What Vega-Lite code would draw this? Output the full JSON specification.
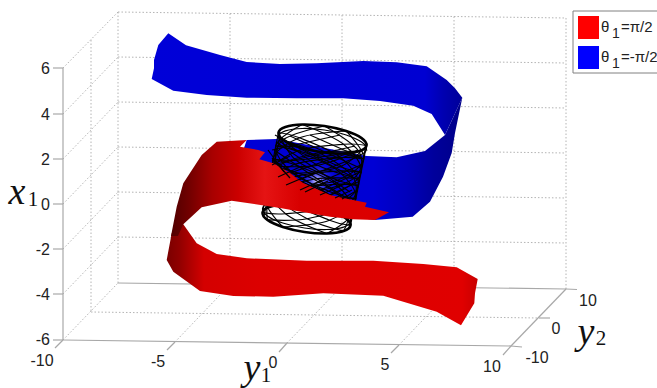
{"$schema":"https://vega.github.io/schema/vega-lite/v6.json","width":657,"height":388,"padding":0,"autosize":{"type":"none"},"background":"white","config":{"view":{"stroke":null}},
"datasets":{
"grid":[{"x":118,"y":12,"x2":566,"y2":18},{"x":118,"y":57,"x2":566,"y2":63},{"x":118,"y":102,"x2":566,"y2":108},{"x":118,"y":147,"x2":566,"y2":153},{"x":118,"y":192,"x2":566,"y2":198},{"x":118,"y":237,"x2":566,"y2":243},{"x":91,"y":312,"x2":539,"y2":318},{"x":63,"y":68,"x2":118,"y2":12},{"x":63,"y":114,"x2":118,"y2":57},{"x":63,"y":159,"x2":118,"y2":102},{"x":63,"y":204,"x2":118,"y2":147},{"x":63,"y":249,"x2":118,"y2":192},{"x":63,"y":294,"x2":118,"y2":237},{"x":63,"y":340,"x2":118,"y2":283},{"x":118,"y":12,"x2":118,"y2":283},{"x":91,"y":40,"x2":91,"y2":312},{"x":230,"y":13.5,"x2":230,"y2":284.5},{"x":342,"y":15,"x2":342,"y2":286},{"x":454,"y":16.5,"x2":454,"y2":287.5},{"x":566,"y":18,"x2":566,"y2":289},{"x":175,"y":342,"x2":230,"y2":284.5},{"x":287,"y":343,"x2":342,"y2":286},{"x":399,"y":345,"x2":454,"y2":287.5}],
"axes":[{"x":63,"y":68,"x2":63,"y2":340},{"x":63,"y":340,"x2":511,"y2":346},{"x":511,"y":346,"x2":566,"y2":289},{"x":118,"y":283,"x2":566,"y2":289},{"x":63,"y":68,"x2":53,"y2":68},{"x":63,"y":114,"x2":53,"y2":114},{"x":63,"y":159,"x2":53,"y2":159},{"x":63,"y":204,"x2":53,"y2":204},{"x":63,"y":249,"x2":53,"y2":249},{"x":63,"y":294,"x2":53,"y2":294},{"x":63,"y":340,"x2":53,"y2":340},{"x":63,"y":340,"x2":55,"y2":348},{"x":175,"y":342,"x2":167,"y2":350},{"x":287,"y":343,"x2":279,"y2":352},{"x":399,"y":345,"x2":391,"y2":353},{"x":511,"y":346,"x2":503,"y2":355},{"x":511,"y":346,"x2":522,"y2":347},{"x":539,"y":318,"x2":550,"y2":318},{"x":566,"y":289,"x2":577,"y2":289.5}],
"blueTop":[{"x":168.3,"y":33.3},{"x":186,"y":45.3},{"x":220,"y":55},{"x":246.7,"y":62},{"x":280,"y":64},{"x":316.7,"y":63.3},{"x":363.3,"y":61},{"x":396.7,"y":62.3},{"x":426.7,"y":66.3},{"x":446.7,"y":80},{"x":455,"y":88.3},{"x":462.3,"y":97.7},{"x":445,"y":135},{"x":431.7,"y":114},{"x":413.3,"y":105.7},{"x":380,"y":101},{"x":343.3,"y":98.3},{"x":296.7,"y":98.3},{"x":246.7,"y":97.7},{"x":206.7,"y":95},{"x":173.3,"y":90.7},{"x":151.7,"y":79},{"x":154,"y":68.3},{"x":154,"y":60},{"x":158.3,"y":45}],
"blueLow":[{"x":462.3,"y":97.7},{"x":455,"y":133},{"x":451.7,"y":153},{"x":443,"y":176.7},{"x":430,"y":201.7},{"x":412.7,"y":216.7},{"x":375,"y":220},{"x":300,"y":210},{"x":240,"y":160},{"x":246.7,"y":140},{"x":276.7,"y":139},{"x":330,"y":149},{"x":366.7,"y":156},{"x":396.7,"y":157.3},{"x":425,"y":151},{"x":445,"y":135}],
"redLow":[{"x":183.3,"y":224.3},{"x":196.7,"y":243.3},{"x":216.7,"y":254},{"x":246.7,"y":258.3},{"x":306.7,"y":260.7},{"x":373.3,"y":260.7},{"x":423.3,"y":264},{"x":456.7,"y":267.3},{"x":477.7,"y":279},{"x":475,"y":293.3},{"x":474.3,"y":303.3},{"x":461,"y":325.3},{"x":436.7,"y":311.7},{"x":383.3,"y":295.7},{"x":323.3,"y":293.3},{"x":273.3,"y":296.7},{"x":233.3,"y":296},{"x":200,"y":291},{"x":173.3,"y":271.7},{"x":166.7,"y":260},{"x":171.7,"y":233.3}],
"redTop":[{"x":216.7,"y":141.7},{"x":246.7,"y":140},{"x":240,"y":146.7},{"x":258.3,"y":150},{"x":265,"y":152.3},{"x":259.3,"y":159.3},{"x":273.3,"y":163.3},{"x":290,"y":173},{"x":303,"y":183},{"x":330,"y":195},{"x":343,"y":198},{"x":366.7,"y":202.7},{"x":365,"y":206.7},{"x":389,"y":212.3},{"x":375,"y":220},{"x":353,"y":219.3},{"x":330,"y":216.7},{"x":280,"y":208},{"x":231.7,"y":200.7},{"x":201.7,"y":207.3},{"x":183.3,"y":224.3},{"x":178,"y":236},{"x":171,"y":236},{"x":176.7,"y":206.7},{"x":183.3,"y":183.3},{"x":201.7,"y":155}],
"ball":[{"x":317,"y":181}],
"rings":[{"r":"t","x":366.5,"y":145.5},{"r":"t","x":359.6,"y":151.1},{"r":"t","x":342.8,"y":153.5},{"r":"t","x":320.5,"y":152},{"r":"t","x":298.8,"y":147},{"r":"t","x":283.4,"y":139.9},{"r":"t","x":278.5,"y":132.5},{"r":"t","x":285.4,"y":126.9},{"r":"t","x":302.2,"y":124.5},{"r":"t","x":324.5,"y":126},{"r":"t","x":346.2,"y":131},{"r":"t","x":361.6,"y":138.1},{"r":"b","x":350.5,"y":225.5},{"r":"b","x":343.6,"y":231.1},{"r":"b","x":326.8,"y":233.5},{"r":"b","x":304.5,"y":232},{"r":"b","x":282.8,"y":227},{"r":"b","x":267.4,"y":219.9},{"r":"b","x":262.5,"y":212.5},{"r":"b","x":269.4,"y":206.9},{"r":"b","x":286.2,"y":204.5},{"r":"b","x":308.5,"y":206},{"r":"b","x":330.2,"y":211},{"r":"b","x":345.6,"y":218.1}],
"rings2":[{"r":"t","x":366.5,"y":149.5},{"r":"t","x":359.6,"y":155.1},{"r":"t","x":342.8,"y":157.5},{"r":"t","x":320.5,"y":156},{"r":"t","x":298.8,"y":151},{"r":"t","x":283.4,"y":143.9},{"r":"t","x":278.5,"y":136.5},{"r":"t","x":285.4,"y":130.9},{"r":"t","x":302.2,"y":128.5},{"r":"t","x":324.5,"y":130},{"r":"t","x":346.2,"y":135},{"r":"t","x":361.6,"y":142.1},{"r":"b","x":350.5,"y":221.5},{"r":"b","x":343.6,"y":227.1},{"r":"b","x":326.8,"y":229.5},{"r":"b","x":304.5,"y":228},{"r":"b","x":282.8,"y":223},{"r":"b","x":267.4,"y":215.9},{"r":"b","x":262.5,"y":208.5},{"r":"b","x":269.4,"y":202.9},{"r":"b","x":286.2,"y":200.5},{"r":"b","x":308.5,"y":202},{"r":"b","x":330.2,"y":207},{"r":"b","x":345.6,"y":214.1}],
"rails":[{"x":278.5,"y":132.5,"x2":262.5,"y2":212.5},{"x":280,"y":136,"x2":264,"y2":216},{"x":366.5,"y":145.5,"x2":350.5,"y2":225.5},{"x":365,"y":150,"x2":349,"y2":229},{"x":272,"y":165,"x2":355,"y2":146},{"x":278,"y":177,"x2":358,"y2":150},{"x":286,"y":185,"x2":360,"y2":156},{"x":300,"y":190,"x2":361,"y2":165},{"x":312,"y":194,"x2":360,"y2":172},{"x":325,"y":197,"x2":358,"y2":182},{"x":272,"y":150,"x2":340,"y2":135},{"x":276,"y":142,"x2":350,"y2":192},{"x":274,"y":150,"x2":346,"y2":198},{"x":275,"y":135,"x2":358,"y2":180},{"x":290,"y":136,"x2":360,"y2":168},{"x":310,"y":135,"x2":362,"y2":158},{"x":272,"y":160,"x2":335,"y2":198},{"x":273,"y":170,"x2":318,"y2":196}],
"helix":[
{"h":"p0","x":366.5,"y":145.5},{"h":"p0","x":340.1,"y":166.8},{"h":"p0","x":293.5,"y":173.7},{"h":"p0","x":270.5,"y":172.5},{"h":"p0","x":291.5,"y":177.8},{"h":"p0","x":332.9,"y":197.7},{"h":"p0","x":350.5,"y":225.5},
{"h":"p30","x":359.6,"y":151.1},{"h":"p30","x":317.8,"y":165.3},{"h":"p30","x":278.1,"y":166.6},{"h":"p30","x":277.4,"y":166.9},{"h":"p30","x":313.8,"y":179.3},{"h":"p30","x":348.3,"y":204.8},{"h":"p30","x":343.6,"y":231.1},
{"h":"p60","x":342.8,"y":153.5},{"h":"p60","x":296.1,"y":160.3},{"h":"p60","x":273.2,"y":159.2},{"h":"p60","x":294.2,"y":164.5},{"h":"p60","x":335.5,"y":184.3},{"h":"p60","x":353.2,"y":212.2},{"h":"p60","x":326.8,"y":233.5},
{"h":"p120","x":298.8,"y":147},{"h":"p120","x":275.8,"y":145.8},{"h":"p120","x":296.9,"y":151.2},{"h":"p120","x":338.2,"y":171},{"h":"p120","x":355.8,"y":198.8},{"h":"p120","x":329.5,"y":220.2},{"h":"p120","x":282.8,"y":227},
{"h":"p150","x":283.4,"y":139.9},{"h":"p150","x":282.7,"y":140.2},{"h":"p150","x":319.2,"y":152.7},{"h":"p150","x":353.6,"y":178.1},{"h":"p150","x":348.9,"y":204.4},{"h":"p150","x":307.2,"y":218.7},{"h":"p150","x":267.4,"y":219.9},
{"h":"p180","x":278.5,"y":132.5},{"h":"p180","x":299.5,"y":137.8},{"h":"p180","x":340.9,"y":157.7},{"h":"p180","x":358.5,"y":185.5},{"h":"p180","x":332.1,"y":206.8},{"h":"p180","x":285.5,"y":213.7},{"h":"p180","x":262.5,"y":212.5},
{"h":"p240","x":302.2,"y":124.5},{"h":"p240","x":343.5,"y":144.3},{"h":"p240","x":361.2,"y":172.2},{"h":"p240","x":334.8,"y":193.5},{"h":"p240","x":288.1,"y":200.3},{"h":"p240","x":265.2,"y":199.2},{"h":"p240","x":286.2,"y":204.5},
{"h":"p270","x":324.5,"y":126},{"h":"p270","x":358.9,"y":151.4},{"h":"p270","x":354.3,"y":177.8},{"h":"p270","x":312.5,"y":192},{"h":"p270","x":272.7,"y":193.2},{"h":"p270","x":272.1,"y":193.6},{"h":"p270","x":308.5,"y":206},
{"h":"p300","x":346.2,"y":131},{"h":"p300","x":363.8,"y":158.8},{"h":"p300","x":337.5,"y":180.2},{"h":"p300","x":290.8,"y":187},{"h":"p300","x":267.8,"y":185.8},{"h":"p300","x":288.9,"y":191.2},{"h":"p300","x":330.2,"y":211},
{"h":"m0","x":366.5,"y":145.5},{"h":"m0","x":343.5,"y":144.3},{"h":"m0","x":296.9,"y":151.2},{"h":"m0","x":270.5,"y":172.5},{"h":"m0","x":288.1,"y":200.3},{"h":"m0","x":329.5,"y":220.2},{"h":"m0","x":350.5,"y":225.5},
{"h":"m30","x":359.6,"y":151.1},{"h":"m30","x":358.9,"y":151.4},{"h":"m30","x":319.2,"y":152.7},{"h":"m30","x":277.4,"y":166.9},{"h":"m30","x":272.7,"y":193.2},{"h":"m30","x":307.2,"y":218.7},{"h":"m30","x":343.6,"y":231.1},
{"h":"m60","x":342.8,"y":153.5},{"h":"m60","x":363.8,"y":158.8},{"h":"m60","x":340.9,"y":157.7},{"h":"m60","x":294.2,"y":164.5},{"h":"m60","x":267.8,"y":185.8},{"h":"m60","x":285.5,"y":213.7},{"h":"m60","x":326.8,"y":233.5},
{"h":"m120","x":298.8,"y":147},{"h":"m120","x":340.1,"y":166.8},{"h":"m120","x":361.2,"y":172.2},{"h":"m120","x":338.2,"y":171},{"h":"m120","x":291.5,"y":177.8},{"h":"m120","x":265.2,"y":199.2},{"h":"m120","x":282.8,"y":227},
{"h":"m150","x":283.4,"y":139.9},{"h":"m150","x":317.8,"y":165.3},{"h":"m150","x":354.3,"y":177.8},{"h":"m150","x":353.6,"y":178.1},{"h":"m150","x":313.8,"y":179.3},{"h":"m150","x":272.1,"y":193.6},{"h":"m150","x":267.4,"y":219.9},
{"h":"m180","x":278.5,"y":132.5},{"h":"m180","x":296.1,"y":160.3},{"h":"m180","x":337.5,"y":180.2},{"h":"m180","x":358.5,"y":185.5},{"h":"m180","x":335.5,"y":184.3},{"h":"m180","x":288.9,"y":191.2},{"h":"m180","x":262.5,"y":212.5},
{"h":"m240","x":302.2,"y":124.5},{"h":"m240","x":275.8,"y":145.8},{"h":"m240","x":293.5,"y":173.7},{"h":"m240","x":334.8,"y":193.5},{"h":"m240","x":355.8,"y":198.8},{"h":"m240","x":332.9,"y":197.7},{"h":"m240","x":286.2,"y":204.5},
{"h":"m270","x":324.5,"y":126},{"h":"m270","x":282.7,"y":140.2},{"h":"m270","x":278.1,"y":166.6},{"h":"m270","x":312.5,"y":192},{"h":"m270","x":348.9,"y":204.4},{"h":"m270","x":348.3,"y":204.8},{"h":"m270","x":308.5,"y":206},
{"h":"m300","x":346.2,"y":131},{"h":"m300","x":299.5,"y":137.8},{"h":"m300","x":273.2,"y":159.2},{"h":"m300","x":290.8,"y":187},{"h":"m300","x":332.1,"y":206.8},{"h":"m300","x":353.2,"y":212.2},{"h":"m300","x":330.2,"y":211}],
"stubs":[{"x":272,"y":165,"x2":290,"y2":156},{"x":278,"y":177,"x2":302,"y2":166},{"x":286,"y":185,"x2":312,"y2":174},{"x":300,"y":190,"x2":322,"y2":180},{"x":305,"y":192,"x2":328,"y2":181},{"x":320,"y":195,"x2":345,"y2":184},{"x":335,"y":198,"x2":352,"y2":190},{"x":342,"y":199,"x2":356,"y2":191},{"x":268,"y":150,"x2":284,"y2":172},{"x":272,"y":158,"x2":290,"y2":178}],
"ticksR":[{"t":"6","x":50,"y":69},{"t":"4","x":50,"y":115},{"t":"2","x":50,"y":160},{"t":"0","x":50,"y":205},{"t":"-2","x":50,"y":250},{"t":"-4","x":50,"y":295},{"t":"-6","x":50,"y":340}],
"ticksC":[{"t":"-10","x":42,"y":361},{"t":"-5","x":158,"y":362},{"t":"0","x":273,"y":363},{"t":"5","x":385,"y":365},{"t":"10","x":492,"y":367},{"t":"-10","x":537,"y":358},{"t":"0","x":556,"y":329},{"t":"10","x":588,"y":301}],
"mathV":[{"t":"x","x":17,"y":193},{"t":"y","x":252,"y":369},{"t":"y","x":586,"y":333}],
"mathS":[{"t":"1","x":33,"y":200},{"t":"1","x":266,"y":376},{"t":"2","x":601,"y":339}],
"legBox":[{"x":573,"x2":662,"y":11,"y2":73}],
"legR":[{"x":578,"x2":599,"y":16,"y2":39}],
"legB":[{"x":578,"x2":599,"y":46,"y2":69}],
"legT":[{"t":"θ","x":601,"y":27},{"t":"θ","x":601,"y":57},{"t":"=π/2","x":621,"y":27},{"t":"=-π/2","x":621,"y":57}],
"legS":[{"t":"1","x":612,"y":34},{"t":"1","x":612,"y":64}]
},
"encoding":{"x":{"field":"x","type":"quantitative","scale":{"domain":[0,657],"nice":false,"zero":false},"axis":null},"y":{"field":"y","type":"quantitative","scale":{"domain":[388,0],"nice":false,"zero":false},"axis":null}},
"layer":[
{"data":{"name":"grid"},"mark":{"type":"rule","stroke":"#b4b4b4","strokeWidth":1,"strokeDash":[1.5,2]},"encoding":{"x2":{"field":"x2"},"y2":{"field":"y2"}}},
{"data":{"name":"axes"},"mark":{"type":"rule","stroke":"#a8a8a8","strokeWidth":1.2},"encoding":{"x2":{"field":"x2"},"y2":{"field":"y2"}}},
{"data":{"name":"blueLow"},"transform":[{"window":[{"op":"row_number","as":"i"}]}],"mark":{"type":"line","stroke":null,"strokeWidth":0,"fill":{"gradient":"linear","x1":0,"y1":0,"x2":1,"y2":0,"stops":[{"offset":0,"color":"#0000d6"},{"offset":0.6,"color":"#0000d4"},{"offset":0.75,"color":"#0000bc"},{"offset":0.87,"color":"#00009c"},{"offset":1,"color":"#000088"}]}},"encoding":{"order":{"field":"i"}}},
{"data":{"name":"blueTop"},"transform":[{"window":[{"op":"row_number","as":"i"}]}],"mark":{"type":"line","stroke":null,"strokeWidth":0,"fill":{"gradient":"linear","x1":0,"y1":0,"x2":1,"y2":0,"stops":[{"offset":0,"color":"#0000d8"},{"offset":0.88,"color":"#0000d2"},{"offset":0.94,"color":"#0000b0"},{"offset":1,"color":"#000098"}]}},"encoding":{"order":{"field":"i"}}},
{"data":{"name":"ball"},"mark":{"type":"point","filled":true,"size":1800,"opacity":1,"stroke":null,"fill":{"gradient":"radial","stops":[{"offset":0,"color":"rgba(225,225,255,1)"},{"offset":0.35,"color":"rgba(90,90,240,0.7)"},{"offset":1,"color":"rgba(0,0,215,0)"}]}}},
{"data":{"name":"helix"},"transform":[{"window":[{"op":"row_number","as":"i"}]}],"mark":{"type":"line","stroke":"#000","strokeWidth":1.1,"interpolate":"cardinal"},"encoding":{"detail":{"field":"h"},"order":{"field":"i"}}},
{"data":{"name":"rails"},"mark":{"type":"rule","stroke":"#000","strokeWidth":1.2},"encoding":{"x2":{"field":"x2"},"y2":{"field":"y2"}}},
{"data":{"name":"rings2"},"transform":[{"window":[{"op":"row_number","as":"i"}]}],"mark":{"type":"line","stroke":"#000","strokeWidth":1.2,"interpolate":"cardinal-closed"},"encoding":{"detail":{"field":"r"},"order":{"field":"i"}}},
{"data":{"name":"rings"},"transform":[{"window":[{"op":"row_number","as":"i"}]}],"mark":{"type":"line","stroke":"#000","strokeWidth":2.6,"interpolate":"cardinal-closed"},"encoding":{"detail":{"field":"r"},"order":{"field":"i"}}},
{"data":{"name":"redLow"},"transform":[{"window":[{"op":"row_number","as":"i"}]}],"mark":{"type":"line","stroke":null,"strokeWidth":0,"fill":{"gradient":"linear","x1":0,"y1":0,"x2":1,"y2":0,"stops":[{"offset":0,"color":"#7a0000"},{"offset":0.04,"color":"#900000"},{"offset":0.12,"color":"#d40000"},{"offset":0.3,"color":"#dc0000"},{"offset":0.95,"color":"#e00000"},{"offset":1,"color":"#c80000"}]}},"encoding":{"order":{"field":"i"}}},
{"data":{"name":"redTop"},"transform":[{"window":[{"op":"row_number","as":"i"}]}],"mark":{"type":"line","stroke":null,"strokeWidth":0,"fill":{"gradient":"linear","x1":0,"y1":0,"x2":1,"y2":0,"stops":[{"offset":0,"color":"#500000"},{"offset":0.08,"color":"#700000"},{"offset":0.19,"color":"#a80000"},{"offset":0.31,"color":"#cc0000"},{"offset":0.43,"color":"#e51414"},{"offset":0.59,"color":"#d80000"},{"offset":1,"color":"#dd0000"}]}},"encoding":{"order":{"field":"i"}}},
{"data":{"name":"stubs"},"mark":{"type":"rule","stroke":"#000","strokeWidth":1.2},"encoding":{"x2":{"field":"x2"},"y2":{"field":"y2"}}},
{"data":{"name":"ticksR"},"mark":{"type":"text","align":"right","baseline":"middle","font":"Liberation Sans","fontSize":16,"fill":"#222"},"encoding":{"text":{"field":"t"}}},
{"data":{"name":"ticksC"},"mark":{"type":"text","align":"center","baseline":"middle","font":"Liberation Sans","fontSize":16,"fill":"#222"},"encoding":{"text":{"field":"t"}}},
{"data":{"name":"mathV"},"mark":{"type":"text","align":"center","baseline":"middle","font":"Liberation Serif","fontStyle":"italic","fontSize":38,"fill":"#111"},"encoding":{"text":{"field":"t"}}},
{"data":{"name":"mathS"},"mark":{"type":"text","align":"center","baseline":"middle","font":"Liberation Serif","fontSize":21,"fill":"#111"},"encoding":{"text":{"field":"t"}}},
{"data":{"name":"legBox"},"mark":{"type":"rect","fill":"white","stroke":"#808080","strokeWidth":1},"encoding":{"x2":{"field":"x2"},"y2":{"field":"y2"}}},
{"data":{"name":"legR"},"mark":{"type":"rect","fill":"#ff0000"},"encoding":{"x2":{"field":"x2"},"y2":{"field":"y2"}}},
{"data":{"name":"legB"},"mark":{"type":"rect","fill":"#0000ff"},"encoding":{"x2":{"field":"x2"},"y2":{"field":"y2"}}},
{"data":{"name":"legT"},"mark":{"type":"text","align":"left","baseline":"middle","font":"Liberation Sans","fontSize":15,"fill":"#222"},"encoding":{"text":{"field":"t"}}},
{"data":{"name":"legS"},"mark":{"type":"text","align":"left","baseline":"middle","font":"Liberation Sans","fontSize":14,"fill":"#222"},"encoding":{"text":{"field":"t"}}}
]}
